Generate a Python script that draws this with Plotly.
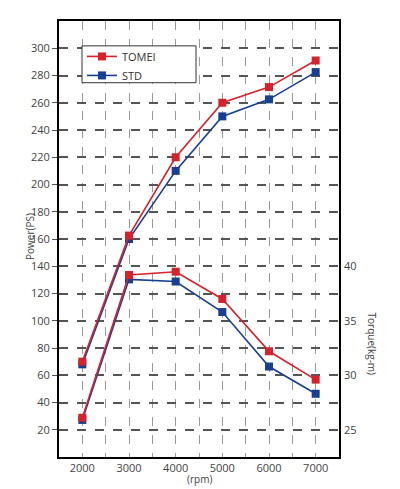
import plotly.graph_objects as go

rpm = [2000, 3000, 4000, 5000, 6000, 7000]
power_tomei = [70, 162.5, 220, 260, 271.5, 291]
power_std = [68, 160, 210, 250, 262.5, 282.5]
torque_tomei = [26.1, 39.2, 39.5, 37.0, 32.2, 29.6]
torque_std = [25.9, 38.8, 38.6, 35.8, 30.8, 28.3]

power_ticks = list(range(20, 301, 20))
torque_ticks = [25, 30, 35, 40]
rpm_ticks = [2000, 3000, 4000, 5000, 6000, 7000]

RED = "#d7212b"
BLUE = "#173f93"
FONT = "Open Sans"

fig = go.Figure()

def add(x, y, name, color, yaxis, show, rank):
    fig.add_trace(go.Scatter(
        x=x, y=y, name=name, mode="lines+markers",
        line=dict(color=color, width=1.6),
        marker=dict(symbol="square", size=8, color=color),
        yaxis=yaxis, showlegend=show, legendrank=rank,
    ))

add(rpm, power_std, "STD", BLUE, "y", True, 2)
add(rpm, torque_std, "STD", BLUE, "y2", False, 2)
add(rpm, power_tomei, "TOMEI", RED, "y", True, 1)
add(rpm, torque_tomei, "TOMEI", RED, "y2", False, 1)

# legend frame (plot area: x 59..339 px, y 19..457 px)
fig.add_shape(type="rect", xref="paper", yref="paper",
              x0=(82 - 59) / 280, x1=(196 - 59) / 280,
              y0=1 - (81 - 19) / 438, y1=1 - (44 - 19) / 438,
              line=dict(color="#333333", width=1), fillcolor="white", layer="above")

fig.update_layout(
    width=392, height=481,
    margin=dict(l=51, r=61, t=11, b=32),
    paper_bgcolor="white", plot_bgcolor="white",
    font=dict(family=FONT, size=11, color="#444444"),
    showlegend=True,
    legend=dict(x=0.082, y=0.952, xanchor="left", yanchor="top",
                bgcolor="rgba(0,0,0,0)", borderwidth=0,
                font=dict(size=11, color="#333333"),
                tracegroupgap=0, itemwidth=30),
    xaxis=dict(range=[1500, 7500], tickvals=rpm_ticks, showgrid=True,
               gridcolor="#9a9a9a", gridwidth=1, griddash="dash",
               minor=dict(dtick=500, tick0=1500, showgrid=True, gridcolor="#9a9a9a",
                          gridwidth=1, griddash="dash", ticks=""),
               showline=True, linecolor="black", linewidth=2, mirror=True,
               ticks="", zeroline=False, tickfont=dict(size=11, color="#444444")),
    yaxis=dict(range=[0, 320], tickvals=power_ticks, showgrid=True,
               gridcolor="#555555", gridwidth=1.5, griddash="dash",
               showline=True, linecolor="black", linewidth=2, mirror=True,
               ticks="outside", ticklen=5, tickcolor="#555555",
               zeroline=False, tickfont=dict(size=11, color="#444444")),
    yaxis2=dict(range=[22.5, 62.5], tickvals=torque_ticks, overlaying="y",
                side="right", showgrid=False, zeroline=False, showline=False,
                ticks="", ticklabelstandoff=4, tickfont=dict(size=11, color="#444444")),
    annotations=[
        dict(text="Power(PS)", xref="paper", yref="paper", x=(30 - 59) / 280,
             y=1 - (235 - 19) / 438, xanchor="center", yanchor="middle",
             textangle=-90, showarrow=False, font=dict(size=10, color="#444444")),
        dict(text="Torque(kg-m)", xref="paper", yref="paper", x=(372 - 59) / 280,
             y=1 - (343 - 19) / 438, xanchor="center", yanchor="middle",
             textangle=90, showarrow=False, font=dict(size=10, color="#444444")),
        dict(text="(rpm)", xref="paper", yref="paper", x=(199 - 59) / 280,
             y=1 - (479 - 19) / 438, xanchor="center", yanchor="middle",
             showarrow=False, font=dict(size=10, color="#444444")),
    ],
)

fig.write_html("out.html")
